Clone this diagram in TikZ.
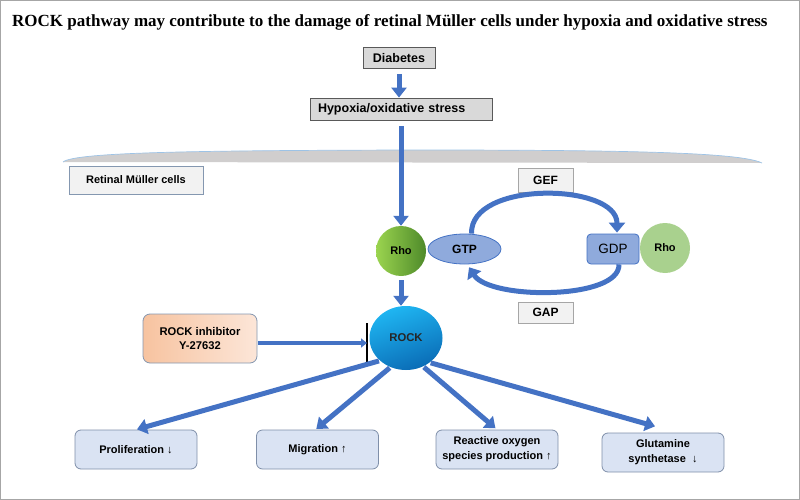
\documentclass[tikz,border=0pt]{standalone}
\usepackage{fontspec}
\setmainfont{Liberation Sans}
\newfontfamily\titlefont{Liberation Serif}
\usetikzlibrary{arrows.meta,shapes.geometric,calc}
\definecolor{arrowblue}{HTML}{4472C4}
\definecolor{grayfill}{HTML}{D9D9D9}
\definecolor{grayline}{HTML}{595959}
\definecolor{membrane}{HTML}{D0CECE}
\definecolor{membraneedge}{HTML}{9DC3E6}
\definecolor{lightbox}{HTML}{F2F2F2}
\definecolor{bluegray}{HTML}{8497B0}
\definecolor{gtpfill}{HTML}{8FAADC}
\definecolor{rhodark}{HTML}{4E8A2A}
\definecolor{rholight}{HTML}{9BD44F}
\definecolor{rhopale}{HTML}{A9D18E}
\definecolor{rocklight}{HTML}{1FB6F2}
\definecolor{rockdark}{HTML}{0A6CB6}
\definecolor{peachdark}{HTML}{F7C3A0}
\definecolor{peachlight}{HTML}{FCE6D8}
\definecolor{outfill}{HTML}{DAE3F3}
\definecolor{outline}{HTML}{7F8FA9}
\definecolor{framegray}{HTML}{A6A6A6}
\tikzset{
  fatarrow/.style={draw=arrowblue, line width=5pt,
    -{Triangle[width=15pt,length=10pt]}},
  thinarrow/.style={draw=arrowblue, line width=3.5pt,
    -{Triangle[width=9pt,length=6pt]}},
  cyclearrow/.style={draw=arrowblue, line width=5pt,
    -{Triangle[width=16pt,length=10pt]}},
  graybox/.style={draw=grayline, fill=grayfill, line width=0.8pt, inner sep=0pt,
    font=\bfseries\fontsize{12.5}{14}\selectfont},
  labelbox/.style={draw=bluegray, fill=lightbox, line width=0.8pt, inner sep=0pt,
    font=\bfseries\fontsize{11}{13}\selectfont},
  outbox/.style={draw=outline, fill=outfill, line width=0.8pt, rounded corners=6pt,
    inner sep=0pt, minimum width=122pt, minimum height=39pt, align=center,
    font=\bfseries\fontsize{11}{15}\selectfont},
  ball/.style={circle, inner sep=0pt, minimum size=50pt,
    font=\bfseries\fontsize{11}{13}\selectfont},
}
\begin{document}
\begin{tikzpicture}[x=1pt,y=-1pt]
\useasboundingbox (0,0) rectangle (800,500);
\draw[framegray, line width=1pt] (0.5,0.5) rectangle (799.5,499.5);

% title
\node[anchor=west, inner sep=0pt, font=\titlefont\bfseries\fontsize{17}{19}\selectfont] (title) at (12,22)
  {ROCK pathway may contribute to the damage of retinal Müller cells under hypoxia and oxidative stress};

% membrane
\fill[membrane] (63,162) .. controls (75,152) and (200,150.5) .. (413,150) .. controls (620,150) and (740,152) .. (762,163) -- cycle;
\draw[membraneedge, line width=0.7pt] (63,162) .. controls (75,152) and (200,150.5) .. (413,150) .. controls (620,150) and (740,152) .. (762,163);

% top boxes
\node[graybox, minimum width=72pt, minimum height=21pt] (diab) at (399,58) {Diabetes};
\node[graybox, minimum width=182pt, minimum height=22pt, text width=166pt, align=left] (hyp) at (401,109) {Hypoxia/oxidative stress};

\node[labelbox, minimum width=134pt, minimum height=28pt] (muller) at (136,180) {Retinal Müller cells};
\node[labelbox, draw=framegray, minimum width=55pt, minimum height=24pt, font=\bfseries\fontsize{12}{14}\selectfont] (gef) at (545.5,180) {GEF};
\node[labelbox, draw=framegray, minimum width=55pt, minimum height=21pt, font=\bfseries\fontsize{12}{14}\selectfont] (gap) at (545.5,312.5) {GAP};

% Rho cycle
\node[ball, left color=rholight, right color=rhodark] (rhoL) at (401,251) {Rho};
\node[ellipse, draw=arrowblue, fill=gtpfill, line width=0.8pt, inner sep=0pt,
  minimum width=73pt, minimum height=30pt, font=\bfseries\fontsize{12}{14}\selectfont] (gtp) at (464.5,249) {GTP};
\node[rectangle, rounded corners=4pt, draw=arrowblue, fill=gtpfill, line width=0.8pt, inner sep=0pt,
  minimum width=52pt, minimum height=30pt, font=\fontsize{13.5}{15}\selectfont] (gdp) at (613,249) {GDP};
\node[ball, fill=rhopale] (rhoR) at (665,248) {Rho};

\draw[cyclearrow, shorten >=1pt]
  ([xshift=7pt]gtp.north) .. controls (470,180) and (617,183) .. ([xshift=4pt]gdp.north);
\draw[cyclearrow, shorten >=1pt]
  ([xshift=6pt]gdp.south) .. controls (620,300) and (490,300) .. ([xshift=4pt,yshift=-2pt]gtp.south);

% ROCK
\node[ellipse, top color=rocklight, bottom color=rockdark, shading angle=20, inner sep=0pt,
  minimum width=73pt, minimum height=64pt, font=\bfseries\fontsize{11.3}{13}\selectfont,
  text=black!85] (rock) at (406,338) {ROCK};
\node[rectangle, rounded corners=7pt, draw=bluegray, line width=0.8pt,
  left color=peachdark, right color=peachlight, inner sep=0pt,
  minimum width=114pt, minimum height=49pt, align=center,
  font=\bfseries\fontsize{11.2}{14}\selectfont] (inhib) at (200,338.5) {ROCK inhibitor\\Y-27632};
\coordinate (barc) at (367,343);
\draw[black, line width=2pt] (367,323) -- (367,362);

% outcome boxes
\node[outbox] (prolif) at (136,449.5) {Proliferation {\mdseries ↓}};
\node[outbox] (migr) at (317.5,449.5) {Migration {\mdseries ↑}};
\node[outbox] (ros) at (497,449.5) {Reactive oxygen\\species production {\mdseries ↑}};
\node[outbox] (glut) at (663,452.5) {Glutamine\\synthetase\ \ {\mdseries ↓}};

% arrows
\draw[fatarrow, shorten <=5pt] (diab.south) -- (diab.south |- hyp.north);
\draw[fatarrow, shorten <=6pt] (hyp.south -| rhoL.north) -- (rhoL.north);
\draw[fatarrow, shorten <=4pt] (rhoL.south) -- (rhoL.south |- rock.north);
\draw[thinarrow, shorten <=1pt] (inhib.east |- barc) -- (barc);
\draw[fatarrow, shorten <=1pt, shorten >=1pt] (rock.221) -- (prolif.north);
\draw[fatarrow, shorten <=1pt, shorten >=1pt] (rock.242) -- ([xshift=-2pt]migr.north);
\draw[fatarrow, shorten <=1pt, shorten >=2pt] (rock.301) -- (ros.north);
\draw[fatarrow, shorten <=1pt, shorten >=1pt] (rock.314) -- ($(glut.north)+(-7,-6)$);
\end{tikzpicture}
\end{document}
